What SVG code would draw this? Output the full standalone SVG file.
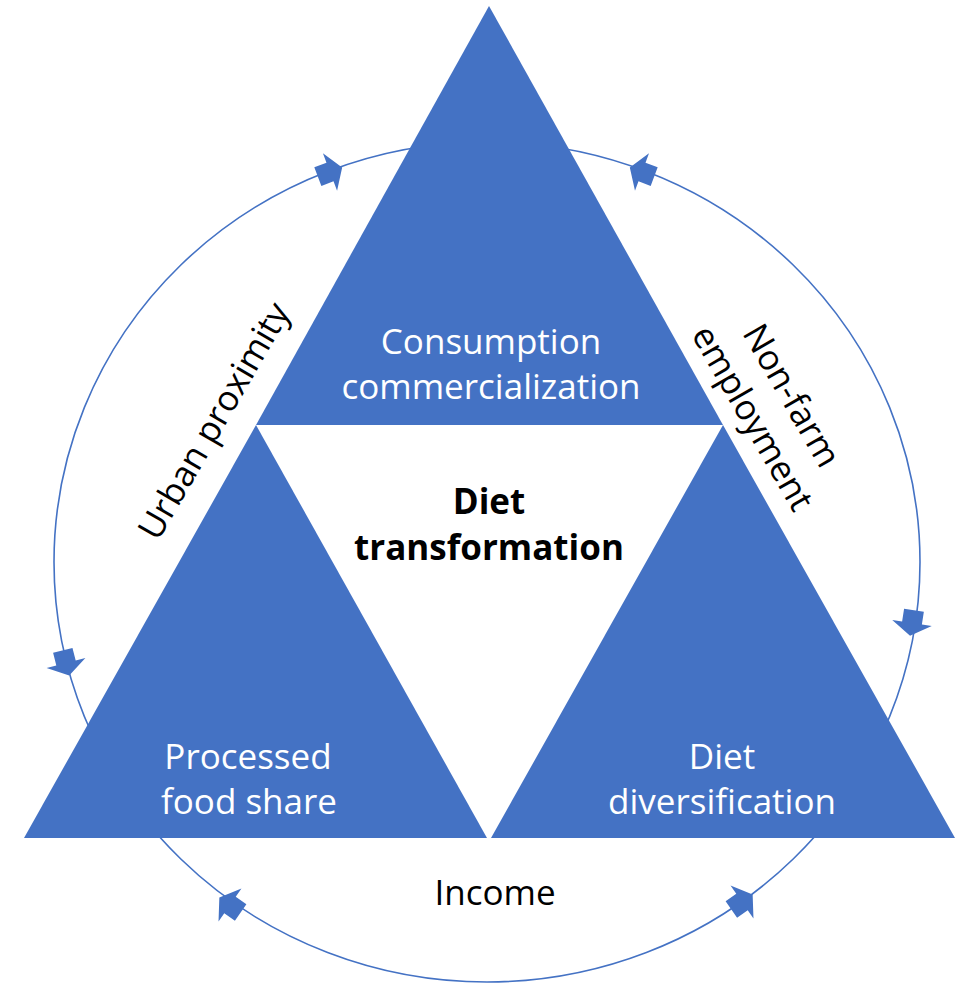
<svg xmlns="http://www.w3.org/2000/svg" width="966" height="984" viewBox="0 0 966 984">
  <style>
    .tri { fill: #4472C4; }
    .ring { fill: none; stroke: #4472C4; stroke-width: 1.6; }
    .arw { fill: #4472C4; }
    .lbl-w { font-family: "Open Sans", "Noto Sans", "Liberation Sans", sans-serif; font-size: 35px; fill: #ffffff; text-anchor: middle; }
    .lbl-k { font-family: "Open Sans", "Noto Sans", "Liberation Sans", sans-serif; font-size: 35px; fill: #000000; text-anchor: middle; }
    .lbl-b { font-family: "Open Sans", "Noto Sans", "Liberation Sans", sans-serif; font-size: 35px; font-weight: bold; fill: #000000; text-anchor: middle; }
  </style>
  <defs>
    <!-- block arrow pointing along +x, centred on the origin -->
    <path id="blk" d="M-13,-10 H0 V-20 L13,0 L0,20 V10 H-13 Z"/>
  </defs>

  <rect width="966" height="984" fill="#ffffff"/>

  <!-- connectors: the surrounding cycle and its arrowheads -->
  <g id="connectors">
    <ellipse class="ring" cx="487" cy="562" rx="433" ry="420"/>
    <use href="#blk" class="arw" transform="translate(330,172) rotate(-20.7)"/>
    <use href="#blk" class="arw" transform="translate(642,172) rotate(200.5)"/>
    <use href="#blk" class="arw" transform="translate(66,663) rotate(75.7)"/>
    <use href="#blk" class="arw" transform="translate(912,623) rotate(98.7)"/>
    <use href="#blk" class="arw" transform="translate(230,905) rotate(215)"/>
    <use href="#blk" class="arw" transform="translate(742,902) rotate(-35)"/>
  </g>

  <g id="consumption">
    <polygon class="tri" points="489,6 723,425 256,425"/>
    <text class="lbl-w" x="491" y="354">Consumption</text>
    <text class="lbl-w" x="491" y="399">commercialization</text>
  </g>

  <g id="processed">
    <polygon class="tri" points="256,425 487,838 24,838"/>
    <text class="lbl-w" x="248" y="769">Processed</text>
    <text class="lbl-w" x="249" y="814">food share</text>
  </g>

  <g id="diversification">
    <polygon class="tri" points="723,425 955,838 491,838"/>
    <text class="lbl-w" x="722" y="769">Diet</text>
    <text class="lbl-w" x="722" y="814">diversification</text>
  </g>

  <g id="diet-transformation">
    <text class="lbl-b" x="489" y="514">Diet</text>
    <text class="lbl-b" x="489" y="560">transformation</text>
  </g>

  <g id="urban-proximity">
    <text class="lbl-k" transform="translate(214,421) rotate(-60)" x="0" y="12">Urban proximity</text>
  </g>

  <g id="non-farm-employment">
    <g transform="translate(777,404) rotate(60)">
      <text class="lbl-k" x="0" y="-5">Non-farm</text>
      <text class="lbl-k" x="0" y="40">employment</text>
    </g>
  </g>

  <g id="income">
    <text class="lbl-k" x="495" y="905">Income</text>
  </g>
</svg>
